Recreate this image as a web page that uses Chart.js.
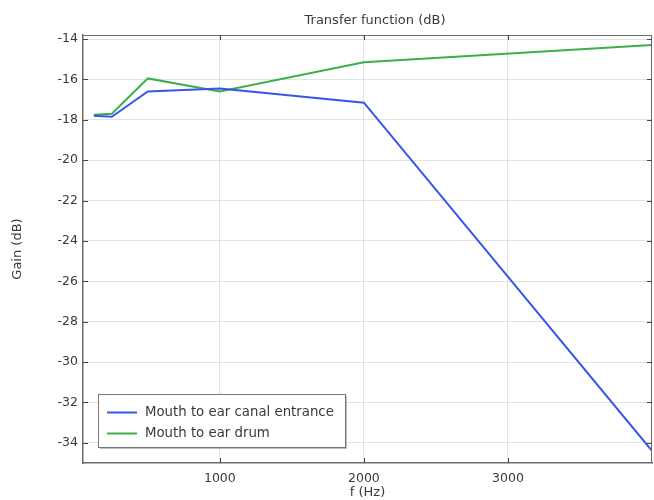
<!DOCTYPE html>
<html><head><meta charset="utf-8">
<script src="https://cdn.jsdelivr.net/npm/chart.js@4/dist/chart.umd.min.js"></script>
<style>html,body{margin:0;padding:0;background:#fff}#wrap{width:654px;height:500px}</style>
</head><body><div id="wrap"><canvas id="c" width="654" height="500"></canvas></div>
<script>
const freqs = [125, 250, 500, 1000, 2000, 4000];
const canalEntrance = [-17.8, -17.85, -16.6, -16.45, -17.15, -34.4];
const earDrum = [-17.75, -17.7, -15.95, -16.6, -15.15, -14.3];
const seriesLabels = ['Mouth to ear canal entrance', 'Mouth to ear drum'];
const xTicks = [1000, 2000, 3000];
const yTicks = [-34, -32, -30, -28, -26, -24, -22, -20, -18, -16, -14];
const chartTitle = 'Transfer function (dB)';

const FONT = 'DejaVu Sans';
const TXT = '#3a3a3a';

const frameAndTicks = {
  id: 'frameAndTicks',
  afterDatasetsDraw(chart) {
    const ctx = chart.ctx, a = chart.chartArea;
    const xs = chart.scales.x, ys = chart.scales.y;
    ctx.save();
    ctx.strokeStyle = '#6a6a6a';
    ctx.lineWidth = 1;
    ctx.beginPath();
    ctx.moveTo(a.left, a.top + 0.5); ctx.lineTo(a.right, a.top + 0.5);
    ctx.moveTo(a.right - 0.5, a.top); ctx.lineTo(a.right - 0.5, a.bottom);
    ctx.stroke();
    ctx.strokeStyle = '#444';
    ctx.beginPath();
    xTicks.forEach(v => {
      const px = Math.round(xs.getPixelForValue(v)) + 0.5;
      ctx.moveTo(px, a.bottom); ctx.lineTo(px, a.bottom - 5);
      ctx.moveTo(px, a.top); ctx.lineTo(px, a.top + 5);
    });
    yTicks.forEach(v => {
      const py = Math.round(ys.getPixelForValue(v)) + 0.5;
      ctx.moveTo(a.left, py); ctx.lineTo(a.left + 5, py);
      ctx.moveTo(a.right, py); ctx.lineTo(a.right - 5, py);
    });
    ctx.stroke();
    ctx.restore();
  },
  afterDraw(chart) {
    const ctx = chart.ctx;
    ctx.save();
    // title
    ctx.font = '13px "' + FONT + '"';
    ctx.fillStyle = TXT;
    ctx.textAlign = 'center';
    ctx.textBaseline = 'middle';
    ctx.fillText(chartTitle, 375, 21);
    // legend
    ctx.textAlign = 'left';
    const bx = 98, by = 394, bw = 247, bh = 53;
    ctx.fillStyle = 'rgba(0,0,0,0.25)';
    ctx.fillRect(bx + 2, by + 2, bw, bh);
    ctx.fillStyle = '#fff';
    ctx.fillRect(bx, by, bw, bh);
    ctx.strokeStyle = '#777';
    ctx.lineWidth = 1;
    ctx.strokeRect(bx + 0.5, by + 0.5, bw, bh);
    ctx.font = '13.3px "' + FONT + '"';
    chart.data.datasets.forEach((ds, i) => {
      const y = by + 18.5 + i * 21;
      ctx.strokeStyle = ds.borderColor;
      ctx.lineWidth = 2;
      ctx.beginPath();
      ctx.moveTo(107, y); ctx.lineTo(137, y);
      ctx.stroke();
      ctx.fillStyle = TXT;
      ctx.fillText(ds.label, 145, y);
    });
    ctx.restore();
  }
};

new Chart(document.getElementById('c'), {
  type: 'line',
  data: {
    datasets: [
      { label: seriesLabels[0], data: freqs.map((f, i) => ({x: f, y: canalEntrance[i]})),
        borderColor: 'rgb(55,85,235)', borderWidth: 2, pointRadius: 0, tension: 0, fill: false },
      { label: seriesLabels[1], data: freqs.map((f, i) => ({x: f, y: earDrum[i]})),
        borderColor: 'rgb(60,175,75)', borderWidth: 2, pointRadius: 0, tension: 0, fill: false }
    ]
  },
  options: {
    responsive: false,
    animation: false,
    events: [],
    layout: { padding: { left: 0, right: 2, top: 35, bottom: 0 } },
    plugins: {
      legend: { display: false },
      tooltip: { enabled: false },
      title: { display: false }
    },
    scales: {
      x: {
        type: 'linear', min: 50, max: 4000,
        afterBuildTicks(s) { s.ticks = xTicks.map(v => ({value: v})); },
        afterFit(s) { s.height = 37; },
        grid: { color: '#e2e2e2', drawTicks: false, lineWidth: 1 },
        border: { color: '#6a6a6a', width: 1.5 },
        ticks: { color: TXT, font: { family: FONT, size: 12.5 }, padding: 8, maxRotation: 0,
                 callback: v => String(v) },
        title: { display: true, text: 'f (Hz)', color: TXT, font: { family: FONT, size: 13 }, padding: { top: 0, bottom: 0 } }
      },
      y: {
        type: 'linear', min: -35, max: -13.8,
        afterBuildTicks(s) { s.ticks = yTicks.map(v => ({value: v})); },
        afterFit(s) { s.width = 83; },
        grid: { color: '#e2e2e2', drawTicks: false, lineWidth: 1 },
        border: { color: '#6a6a6a', width: 1.5 },
        ticks: { color: TXT, font: { family: FONT, size: 12.5 }, padding: 5,
                 callback: v => String(v) },
        title: { display: true, text: 'Gain (dB)', color: TXT, font: { family: FONT, size: 13 }, padding: { top: 10, bottom: 0 } }
      }
    }
  },
  plugins: [frameAndTicks]
});
</script>
</body></html>
